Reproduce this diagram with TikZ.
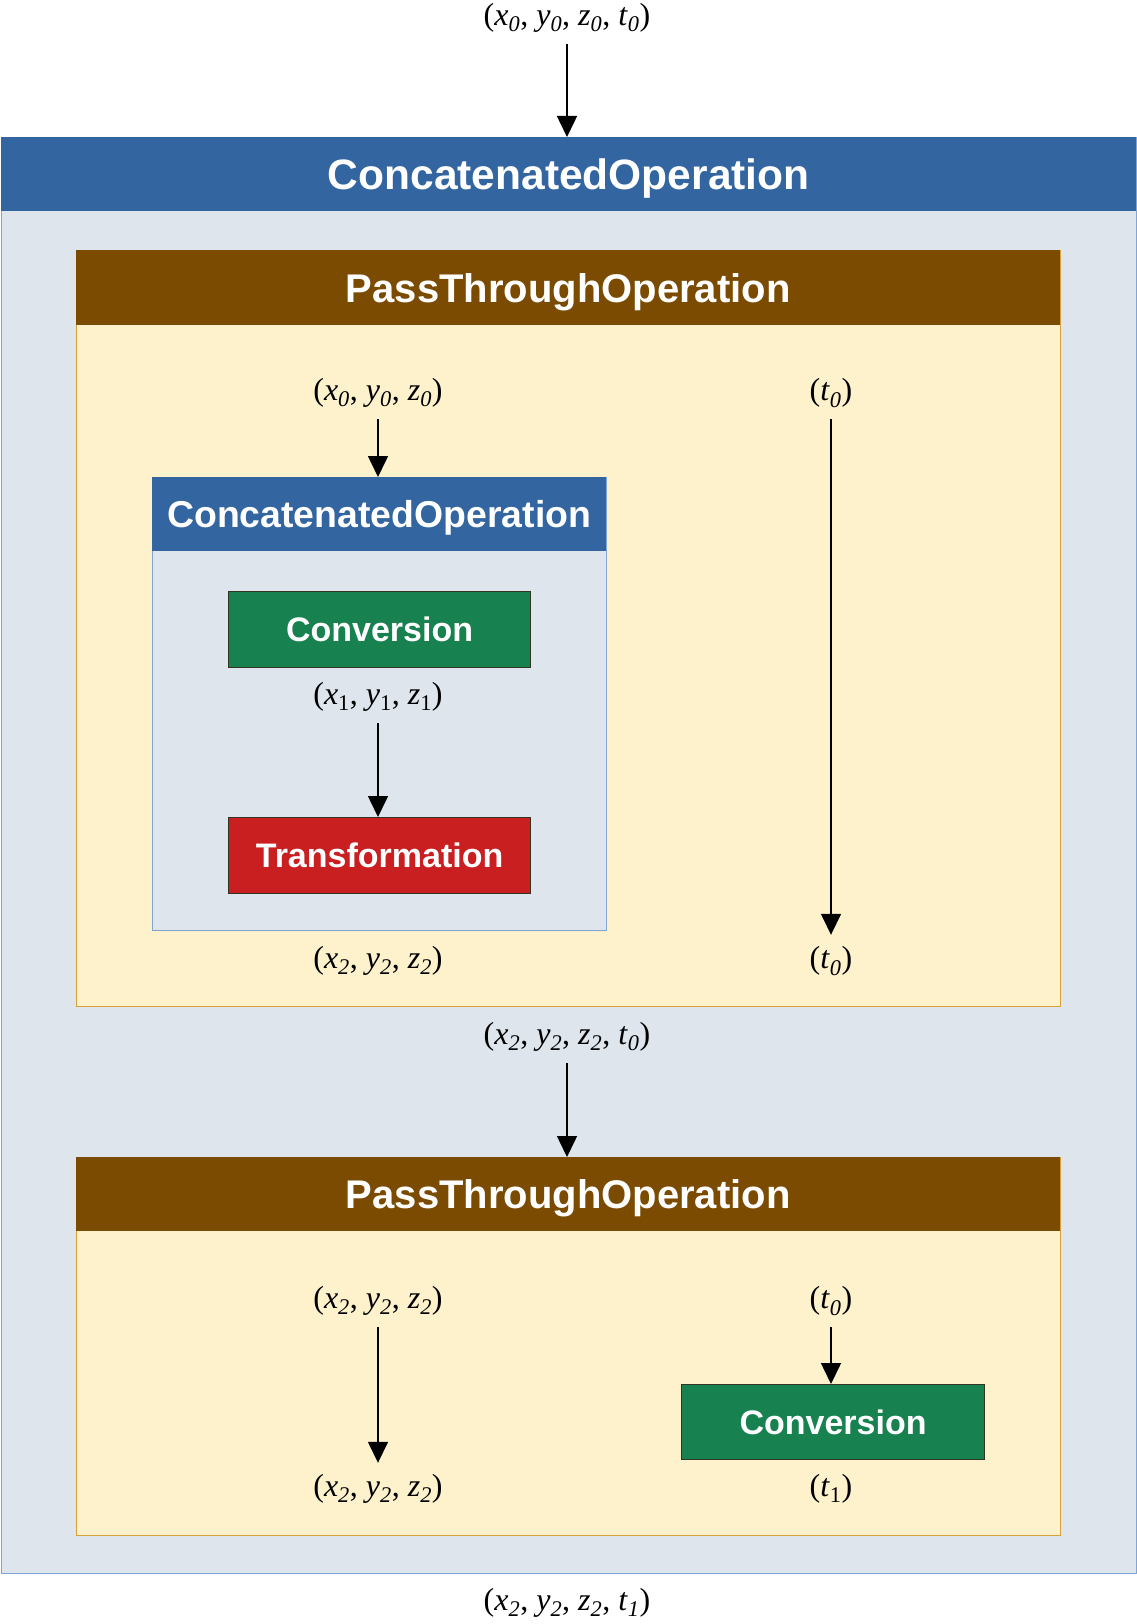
\documentclass[tikz,border=0pt]{standalone}
\usepackage{fontspec}
\setmainfont{Liberation Serif}
\newfontfamily\hdfont{Liberation Sans}
\usetikzlibrary{arrows.meta}

\definecolor{opblue}{HTML}{3365A0}
\definecolor{opbluebg}{HTML}{DEE5EC}
\definecolor{opblueline}{HTML}{7FA6D6}
\definecolor{ptbrown}{HTML}{7A4B00}
\definecolor{ptbg}{HTML}{FDF2CC}
\definecolor{ptline}{HTML}{D9A13A}
\definecolor{convgreen}{HTML}{178150}
\definecolor{trred}{HTML}{C91F21}
\definecolor{boxedge}{HTML}{333322}

% italic subscript for coordinate labels
\newcommand\isub[1]{\textsubscript{\itshape #1}}
\newcommand\usub[1]{\textsubscript{#1}}

\tikzset{
  region/.style={draw=#1, line width=1.2pt, anchor=north west, inner sep=0pt},
  header/.style={fill=#1, anchor=north west, inner sep=0pt, text=white,
    text height=28.6pt, text depth=0pt,
    font=\hdfont\bfseries\fontsize{40}{48}\selectfont},
  opbox/.style={fill=#1, draw=boxedge, line width=1.2pt, anchor=north west,
    inner sep=0pt, text=white, font=\hdfont\bfseries\fontsize{34}{40}\selectfont},
  coordlabel/.style={inner sep=0pt, minimum height=52pt,
    font=\fontsize{32}{38}\selectfont},
  flow/.style={line width=1.5pt, -{Triangle[width=20pt,length=21pt]}},
}

\begin{document}
\begin{tikzpicture}[x=1pt, y=-1pt]
\useasboundingbox (0,0) rectangle (1137,1624);

% outer concatenated operation
\node[region=opblueline, fill=opbluebg, minimum width=1135pt, minimum height=1436pt] (outer) at (1,137) {};
\node[header=opblue, minimum width=1135pt, minimum height=74pt, text height=30.4pt,
  font=\hdfont\bfseries\fontsize{42.5}{50}\selectfont] (outerhead) at (outer.north west) {ConcatenatedOperation};

% first pass-through operation
\node[region=ptline, fill=ptbg, minimum width=984pt, minimum height=756pt] (pta) at (76,250) {};
\node[header=ptbrown, minimum width=984pt, minimum height=75pt] (ptahead) at (pta.north west) {PassThroughOperation};

% nested concatenated operation
\node[region=opblueline, fill=opbluebg, minimum width=454pt, minimum height=453pt] (inner) at (152,477) {};
\node[header=opblue, minimum width=454pt, minimum height=74pt, text height=26.8pt,
  font=\hdfont\bfseries\fontsize{37.4}{44}\selectfont] (innerhead) at (inner.north west) {ConcatenatedOperation};

\node[opbox=convgreen, minimum width=302pt, minimum height=76pt] (conva) at (228,591) {Conversion};
\node[opbox=trred, minimum width=302pt, minimum height=76pt] (trans) at (228,817) {Transformation};

% second pass-through operation
\node[region=ptline, fill=ptbg, minimum width=984pt, minimum height=378pt] (ptb) at (76,1157) {};
\node[header=ptbrown, minimum width=984pt, minimum height=74pt] (ptbhead) at (ptb.north west) {PassThroughOperation};
\node[opbox=convgreen, minimum width=303pt, minimum height=75pt] (convb) at (681,1384) {Conversion};

% coordinate tuples
\node[coordlabel] (in) at (567,18) {(\textit{x}\isub{0}, \textit{y}\isub{0}, \textit{z}\isub{0}, \textit{t}\isub{0})};
\node[coordlabel] (xyzA) at (378,393) {(\textit{x}\isub{0}, \textit{y}\isub{0}, \textit{z}\isub{0})};
\node[coordlabel] (tA) at (831,393) {(\textit{t}\isub{0})};
\node[coordlabel] (xyzB) at (378,697) {(\textit{x}\usub{1}, \textit{y}\usub{1}, \textit{z}\usub{1})};
\node[coordlabel] (xyzC) at (378,961) {(\textit{x}\isub{2}, \textit{y}\isub{2}, \textit{z}\isub{2})};
\node[coordlabel] (tB) at (831,961) {(\textit{t}\isub{0})};
\node[coordlabel] (mid) at (567,1037) {(\textit{x}\isub{2}, \textit{y}\isub{2}, \textit{z}\isub{2}, \textit{t}\isub{0})};
\node[coordlabel] (xyzD) at (378,1301) {(\textit{x}\isub{2}, \textit{y}\isub{2}, \textit{z}\isub{2})};
\node[coordlabel] (tC) at (831,1301) {(\textit{t}\isub{0})};
\node[coordlabel] (xyzE) at (378,1489) {(\textit{x}\isub{2}, \textit{y}\isub{2}, \textit{z}\isub{2})};
\node[coordlabel] (tD) at (831,1489) {(\textit{t}\usub{1})};
\node[coordlabel] (out) at (567,1603) {(\textit{x}\isub{2}, \textit{y}\isub{2}, \textit{z}\isub{2}, \textit{t}\isub{1})};

% data flow
\draw[flow] (in.south) -- (in.south |- outer.north);
\draw[flow] (xyzA.south) -- (xyzA.south |- inner.north);
\draw[flow] (tA.south) -- (tB.north);
\draw[flow] (xyzB.south) -- (xyzB.south |- trans.north);
\draw[flow] (mid.south) -- (mid.south |- ptb.north);
\draw[flow] (xyzD.south) -- (xyzE.north);
\draw[flow] (tC.south) -- (tC.south |- convb.north);
\end{tikzpicture}
\end{document}
